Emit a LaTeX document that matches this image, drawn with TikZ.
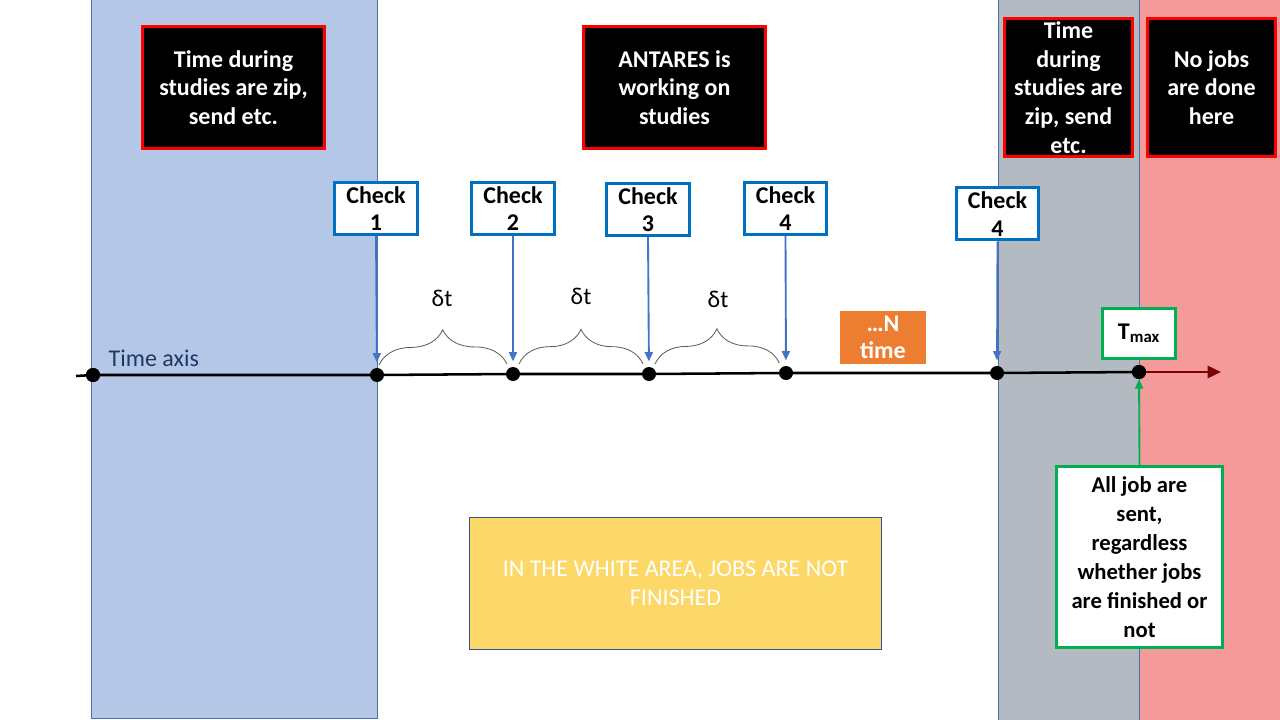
\documentclass[tikz,border=0pt]{standalone}
\usepackage{fontspec}
\setmainfont{Carlito}
\usetikzlibrary{positioning}
\usetikzlibrary{arrows.meta}
\usetikzlibrary{decorations.pathreplacing}

\definecolor{bandBlue}{HTML}{B4C7E7}
\definecolor{bandGray}{HTML}{B4BAC1}
\definecolor{bandRed}{HTML}{F59A9A}
\definecolor{bandLine}{HTML}{4A72A8}
\definecolor{chkBlue}{HTML}{0070C0}
\definecolor{arrBlue}{HTML}{4472C4}
\definecolor{okGreen}{HTML}{00B050}
\definecolor{nOrange}{HTML}{ED7D31}
\definecolor{noteYellow}{HTML}{FCD868}
\definecolor{noteLine}{HTML}{2F5597}
\definecolor{axisRed}{HTML}{7F0000}
\definecolor{axisText}{HTML}{1F3864}

\tikzset{
  redbox/.style={draw=red, line width=2.25pt, fill=black, text=white, align=center,
    inner sep=0pt, font=\bfseries\fontsize{18}{21.6}\selectfont},
  checkbox/.style={draw=chkBlue, line width=2.25pt, fill=white, align=center,
    inner sep=0pt, minimum width=62pt, minimum height=39pt,
    font=\bfseries\fontsize{18}{20.5}\selectfont},
  checkarrow/.style={draw=arrBlue, line width=1.4pt, shorten >=4pt,
    -{Triangle[length=7pt,width=6pt]}},
  dot/.style={circle, fill=black, inner sep=0pt, minimum size=10.5pt},
  dtbrace/.style={draw=black!65, line width=0.6pt, decorate,
    decoration={brace, amplitude=26pt, aspect=0.5}},
}

\begin{document}
\begin{tikzpicture}[x=0.75pt, y=-0.75pt]
      \useasboundingbox (0,0) rectangle (1280,720);
      \fill[white] (0,0) rectangle (1280,720);

      % bands
      \draw[bandLine, fill=bandBlue] (91,-2) rectangle (377,718);
      \draw[bandLine, fill=bandGray] (998,-2) rectangle (1139,722);
      \draw[bandLine, fill=bandRed] (1139,-2) rectangle (1282,722);

      % notes on top
      \node[redbox, minimum width=137pt, minimum height=92pt] (ZipLabel) at (233.5,87.5)
        {Time during\\studies are zip,\\send etc.};
      \node[redbox, minimum width=137pt, minimum height=92pt] (RunLabel) at (674.5,87.5)
        {ANTARES is\\working on\\studies};
      \node[redbox, minimum width=96pt, minimum height=104pt] (ZipLabelB) at (1068.5,87.5)
        {Time\\during\\studies are\\zip, send\\etc.};
      \node[redbox, minimum width=96pt, minimum height=104pt] (NoJobLabel) at (1211.5,87.5)
        {No jobs\\are done\\here};

      % time axis
      \coordinate (AxStart) at (76,376);
      \coordinate (AxEnd) at (1221,372);
      \node[dot] (D0) at (93,375) {};
      \node[dot] (D1) at (377,375) {};
      \node[dot] (D2) at (513,374) {};
      \node[dot] (D3) at (649,374) {};
      \node[dot] (D4) at (786,373) {};
      \node[dot] (D5) at (997,373) {};
      \node[dot] (D6) at (1139,372) {};
      \draw[black, line width=1.9pt] (AxStart) -- (D0.center) -- (D1.center) -- (D2.center)
        -- (D3.center) -- (D4.center) -- (D5.center) -- (D6.center);
      \draw[axisRed, line width=1.9pt, -{Triangle[length=10pt,width=9pt]}] (D6.center) -- (AxEnd);
      \node[dot] at (D0) {};
      \node[dot] at (D6) {};
      \node[axisText, anchor=west, font=\fontsize{18}{21.6}\selectfont] (AxLabel) at (104,358) {Time axis};

      % checks
      \node[checkbox] (C1Label) at (376,208.5) {Check\\1};
      \node[checkbox] (C2Label) at (513,208.5) {Check\\2};
      \node[checkbox] (C3Label) at (648,209.5) {Check\\3};
      \node[checkbox] (C4Label) at (785.5,208.5) {Check\\4};
      \node[checkbox] (C5Label) at (997.5,214) {Check\\4};
      \foreach \i/\d in {1/D1, 2/D2, 3/D3, 4/D4, 5/D5}
        \draw[checkarrow] (C\i Label.south) -- (\d);

      % intervals
      \draw[dtbrace] ([shift={(1.5pt,7.5pt)}]D1.center) -- ([shift={(-4.5pt,7.5pt)}]D2.center);
      \draw[dtbrace] ([shift={(4.5pt,7.5pt)}]D2.center) -- ([shift={(-4.5pt,7.5pt)}]D3.center);
      \draw[dtbrace] ([shift={(4.5pt,7.5pt)}]D3.center) -- ([shift={(-5pt,7.5pt)}]D4.center);
      \node[font=\fontsize{18}{21.6}\selectfont] (DT1) at (442,298) {δt};
      \node[font=\fontsize{18}{21.6}\selectfont] (DT2) at (581,296) {δt};
      \node[font=\fontsize{18}{21.6}\selectfont] (DT3) at (718,299) {δt};

      \node[fill=nOrange, text=white, align=center, inner sep=0pt, minimum width=64.5pt,
        minimum height=40pt, font=\bfseries\fontsize{18}{20.5}\selectfont] (NLabel) at (883,337.5)
        {…N\\time};

      % end of the run
      \node[draw=okGreen, line width=2.25pt, fill=white, inner sep=0pt, minimum width=55pt,
        minimum height=37.5pt, font=\bfseries\fontsize{18}{21.6}\selectfont] (TLabel) at (1139,333.5)
        {T\textsubscript{max}};
      \node[draw=okGreen, line width=2.25pt, fill=white, align=center, inner sep=0pt,
        minimum width=124.5pt, minimum height=136pt,
        font=\bfseries\fontsize{17}{21.75}\selectfont] (SentLabel) at (1139.5,557)
        {All job are\\sent,\\regardless\\whether jobs\\are finished or\\not};
      \draw[okGreen, line width=1.4pt, -{Triangle[length=7pt,width=6pt]}] (SentLabel.north) -- (D6);

      % note
      \node[draw=noteLine, line width=0.6pt, fill=noteYellow, text=white, align=center,
        minimum width=309.5pt, minimum height=99pt,
        font=\fontsize{18}{21.75}\selectfont] (WhiteNote) at (675.5,583)
        {IN THE WHITE AREA, JOBS ARE NOT\\FINISHED};
\end{tikzpicture}
\end{document}
